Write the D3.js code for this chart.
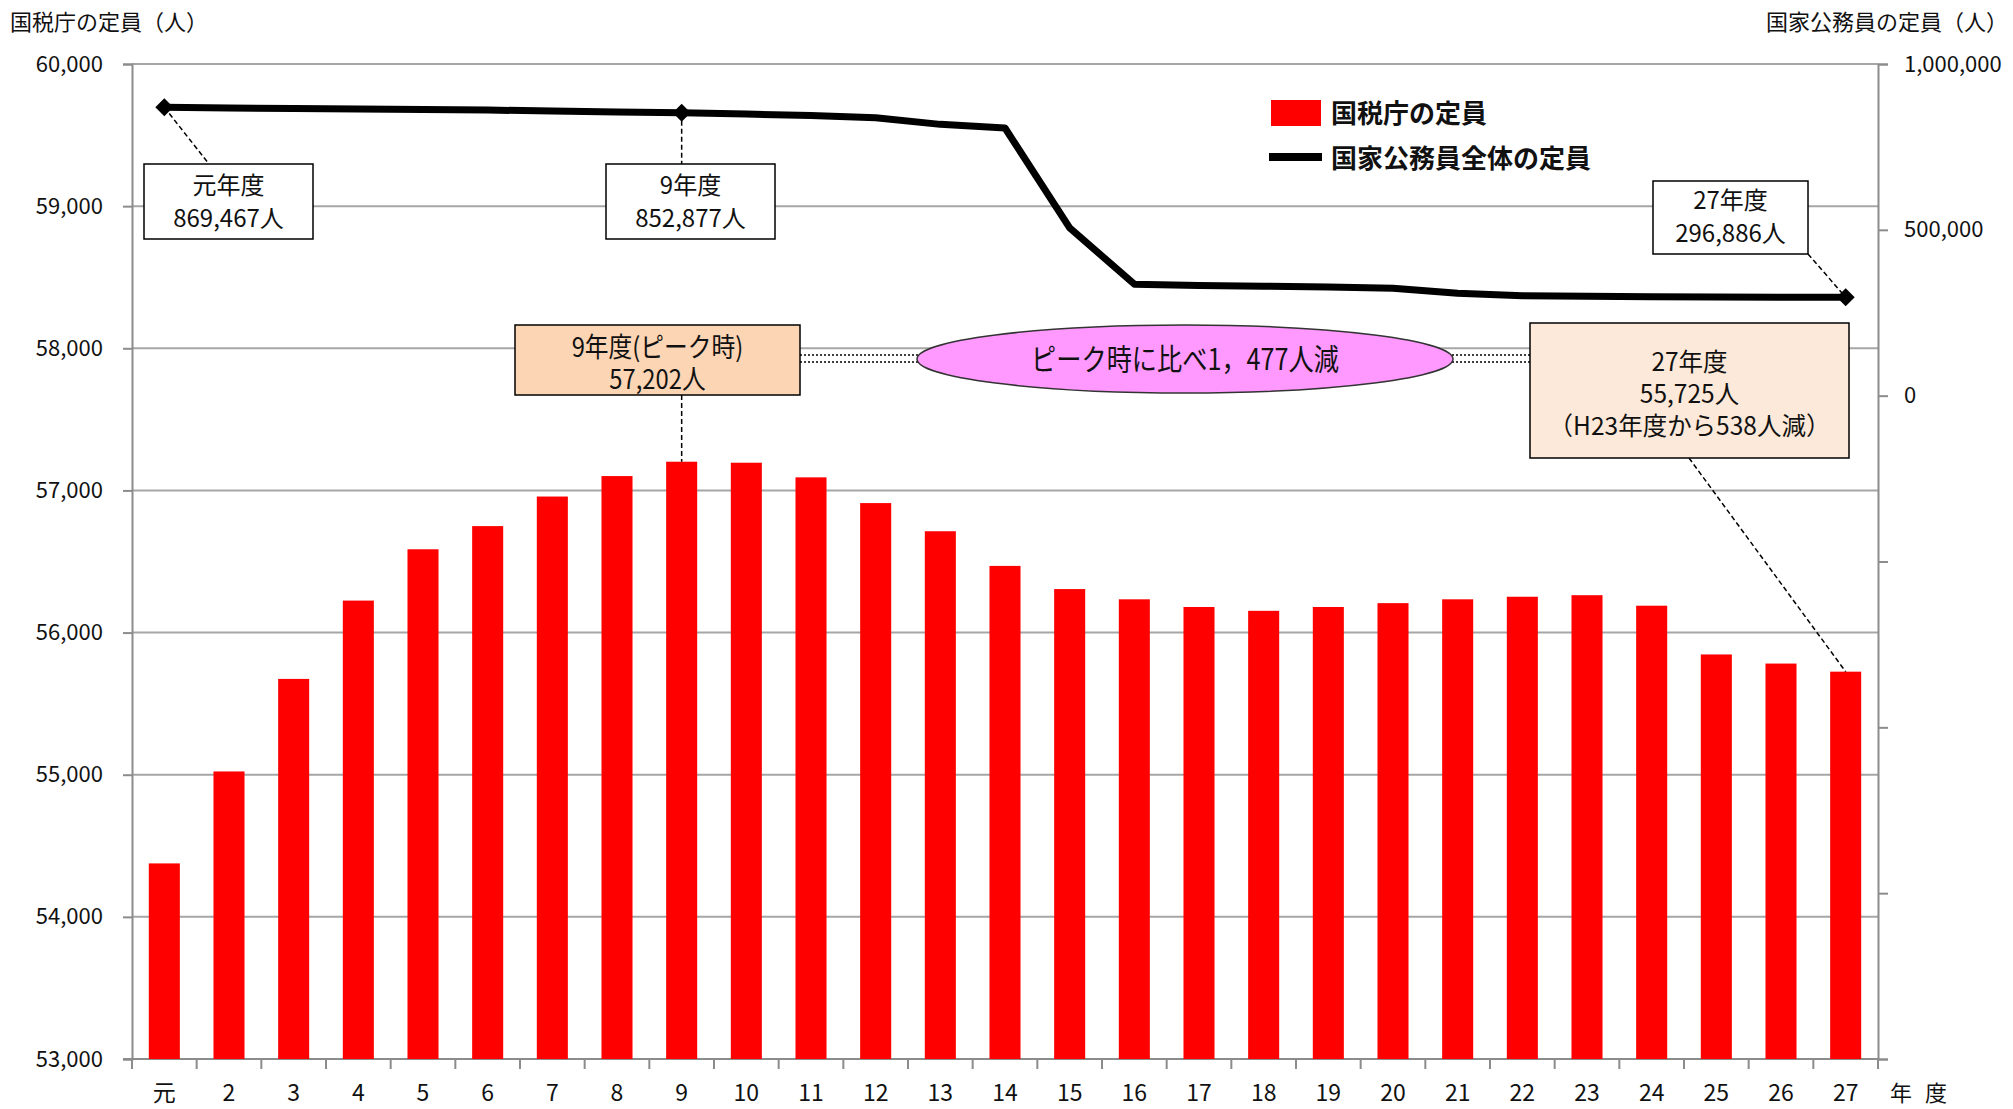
<!DOCTYPE html>
<html>
<head>
<meta charset="utf-8">
<script src="https://cdn.jsdelivr.net/npm/d3@7"></script>
<style>
body { margin: 0; background: #fff; }
svg text { font-family: "Noto Sans CJK JP", sans-serif; fill: #111; }
</style>
</head>
<body>
<div id="chart"></div>
<script>
// 年度
const years = ["元", "2", "3", "4", "5", "6", "7", "8", "9", "10", "11", "12", "13", "14",
    "15", "16", "17", "18", "19", "20", "21", "22", "23", "24", "25", "26", "27"];

// 国税庁の定員（人）
const ntaStaff = [54376, 55023, 55674, 56225, 56586, 56749, 56957, 57101, 57202, 57195, 57092,
    56911, 56713, 56469, 56306, 56234, 56180, 56153, 56180, 56207, 56234, 56252, 56263, 56189,
    55846, 55782, 55725];

// 国家公務員全体の定員（人）
const govStaff = [869467, 867500, 866000, 864500, 863000, 861000, 858500, 855500, 852877, 849000,
    845000, 838000, 818000, 807000, 506000, 336000, 332000, 330000, 328000, 324000, 309000,
    301000, 300000, 298500, 297500, 297000, 296886];

const leftTicks = [53000, 54000, 55000, 56000, 57000, 58000, 59000, 60000];
const rightTicks = [-2000000, -1500000, -1000000, -500000, 0, 500000, 1000000];
const rightLabelled = [0, 500000, 1000000];

const width = 2013, height = 1109;
const plot = { left: 132, right: 1878, top: 64, bottom: 1059 };

const svg = d3.select("#chart").append("svg")
    .attr("width", width)
    .attr("height", height);

const x = d3.scaleBand()
    .domain(years)
    .range([plot.left, plot.right])
    .paddingInner(0.52)
    .paddingOuter(0.26);

const yL = d3.scaleLinear().domain([53000, 60000]).range([plot.bottom, plot.top]);
const yR = d3.scaleLinear().domain([-2000000, 1000000]).range([plot.bottom, plot.top]);
const fmt = d3.format(",");
const cx = i => x(years[i]) + x.bandwidth() / 2;

// gridlines
svg.append("g")
    .selectAll("line")
    .data(leftTicks.filter(d => d > 53000))
    .join("line")
    .attr("x1", plot.left).attr("x2", plot.right)
    .attr("y1", d => yL(d)).attr("y2", d => yL(d))
    .attr("stroke", "#a6a6a6")
    .attr("stroke-width", 2);

// left axis
const axL = svg.append("g")
    .attr("transform", `translate(${plot.left},0)`)
    .call(d3.axisLeft(yL).tickValues(leftTicks).tickFormat(fmt).tickSize(9).tickPadding(20));
axL.select(".domain").attr("stroke", "#8c8c8c").attr("stroke-width", 2);
axL.selectAll(".tick line").attr("stroke", "#8c8c8c").attr("stroke-width", 2);
axL.selectAll("text").attr("font-size", 22).attr("font-family", "Noto Sans CJK JP");

// right axis
const axR = svg.append("g")
    .attr("transform", `translate(${plot.right},0)`)
    .call(d3.axisRight(yR).tickValues(rightTicks)
        .tickFormat(d => rightLabelled.includes(d) ? fmt(d) : "")
        .tickSize(10).tickPadding(16));
axR.select(".domain").attr("stroke", "#8c8c8c").attr("stroke-width", 2);
axR.selectAll(".tick line").attr("stroke", "#8c8c8c").attr("stroke-width", 2);
axR.selectAll("text").attr("font-size", 22).attr("font-family", "Noto Sans CJK JP");

// bottom axis: ticks between categories
const bottom = svg.append("g");
bottom.append("line")
    .attr("x1", plot.left - 9).attr("x2", plot.right)
    .attr("y1", plot.bottom).attr("y2", plot.bottom)
    .attr("stroke", "#8c8c8c").attr("stroke-width", 2);
bottom.selectAll("line.tk")
    .data(d3.range(years.length + 1))
    .join("line")
    .attr("class", "tk")
    .attr("x1", i => plot.left + i * x.step()).attr("x2", i => plot.left + i * x.step())
    .attr("y1", plot.bottom).attr("y2", plot.bottom + 10)
    .attr("stroke", "#8c8c8c").attr("stroke-width", 2);
bottom.selectAll("text")
    .data(years)
    .join("text")
    .attr("x", d => x(d) + x.bandwidth() / 2)
    .attr("y", 1101)
    .attr("text-anchor", "middle")
    .attr("font-size", 23)
    .text(d => d);
bottom.append("text")
    .attr("x", 1890).attr("y", 1101)
    .attr("font-size", 22)
    .attr("letter-spacing", 4)
    .text("年 度");

// bars
svg.append("g")
    .selectAll("rect")
    .data(ntaStaff)
    .join("rect")
    .attr("x", (d, i) => x(years[i]))
    .attr("y", d => yL(d))
    .attr("width", x.bandwidth())
    .attr("height", d => plot.bottom - yL(d))
    .attr("fill", "#ff0000");

// line
const line = d3.line()
    .x((d, i) => cx(i))
    .y(d => yR(d));

svg.append("path")
    .datum(govStaff)
    .attr("d", line)
    .attr("fill", "none")
    .attr("stroke", "#000")
    .attr("stroke-width", 7)
    .attr("stroke-linejoin", "round");

svg.append("g")
    .selectAll("path")
    .data([0, 8, 26])
    .join("path")
    .attr("transform", i => `translate(${cx(i)},${yR(govStaff[i])})`)
    .attr("d", "M0,-9L9,0L0,9L-9,0Z")
    .attr("fill", "#000");

// titles
svg.append("text").attr("x", 10).attr("y", 30).attr("font-size", 22).text("国税庁の定員（人）");
svg.append("text").attr("x", 2008).attr("y", 30).attr("text-anchor", "end").attr("font-size", 22)
    .text("国家公務員の定員（人）");

// legend
const lg = svg.append("g");
lg.append("rect").attr("x", 1271).attr("y", 100).attr("width", 50).attr("height", 26).attr("fill", "#ff0000");
lg.append("text").attr("x", 1331).attr("y", 123).attr("font-size", 26).attr("font-weight", "bold")
    .text("国税庁の定員");
lg.append("line").attr("x1", 1269).attr("x2", 1322).attr("y1", 157).attr("y2", 157)
    .attr("stroke", "#000").attr("stroke-width", 8);
lg.append("text").attr("x", 1331).attr("y", 168).attr("font-size", 26).attr("font-weight", "bold")
    .text("国家公務員全体の定員");

// callouts
function leader(x1, y1, x2, y2, dash) {
    svg.append("line")
        .attr("x1", x1).attr("y1", y1).attr("x2", x2).attr("y2", y2)
        .attr("stroke", "#000").attr("stroke-width", 1.5)
        .attr("stroke-dasharray", dash || "5,3");
}

function box(bx, by, bw, bh, fill, lines, size, lineYs, squeeze) {
    const g = svg.append("g");
    g.append("rect")
        .attr("x", bx).attr("y", by).attr("width", bw).attr("height", bh)
        .attr("fill", fill).attr("stroke", "#000").attr("stroke-width", 1.5);
    lines.forEach((t, k) => {
        const c = bx + bw / 2;
        g.append("text")
            .attr("transform", `translate(${c},${lineYs[k]}) scale(${squeeze || 1},1)`)
            .attr("text-anchor", "middle")
            .attr("font-size", size)
            .text(t);
    });
}

leader(cx(0), yR(govStaff[0]), 209, 164);
box(144, 164, 169, 75, "#fff", ["元年度", fmt(govStaff[0]) + "人"], 24, [194, 227]);

leader(cx(8), yR(govStaff[8]), cx(8), 164);
box(606, 164, 169, 75, "#fff", ["9年度", fmt(govStaff[8]) + "人"], 24, [194, 227]);

leader(1808, 254, cx(26), yR(govStaff[26]));
box(1653, 181, 155, 73, "#fff", ["27年度", fmt(govStaff[26]) + "人"], 24, [209, 242]);

leader(cx(8), 395, cx(8), yL(ntaStaff[8]));
box(515, 325, 285, 70, "#fcd5b4", ["9年度(ピーク時)", fmt(ntaStaff[8]) + "人"], 27, [357, 389], 0.88);

leader(1689, 458, cx(26), yL(ntaStaff[26]));

// dotted connectors
[[800, 918], [1452, 1531]].forEach(([a, b]) => {
    [355, 362].forEach(yy => leader(a, yy, b, yy, "2,2"));
});

svg.append("ellipse")
    .attr("cx", 1185).attr("cy", 359).attr("rx", 268).attr("ry", 34)
    .attr("fill", "#ff99ff").attr("stroke", "#333").attr("stroke-width", 1.5);
svg.append("text")
    .attr("transform", "translate(1185,370) scale(0.84,1)")
    .attr("text-anchor", "middle")
    .attr("font-size", 30)
    .text("ピーク時に比べ1，477人減");

box(1530, 323, 319, 135, "#fde9d9",
    ["27年度", fmt(ntaStaff[26]) + "人", "（H23年度から538人減）"], 25, [371, 403, 435], 0.98);
</script>
</body>
</html>
